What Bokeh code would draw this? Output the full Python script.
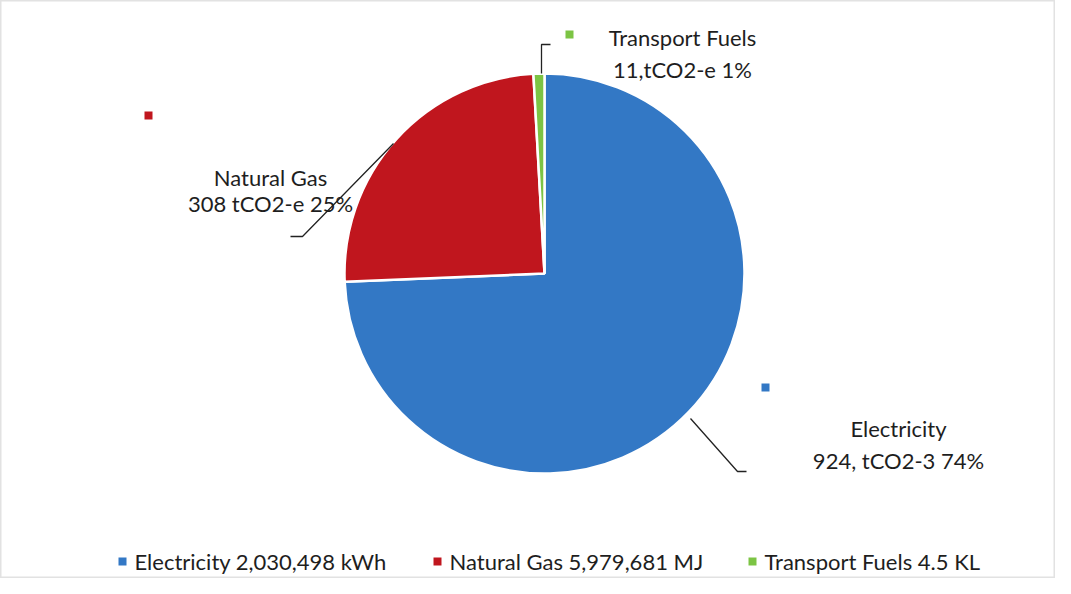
import math
from bokeh.plotting import figure
from bokeh.models import ColumnDataSource, Range1d
from bokeh.core.properties import value
from bokeh.embed import file_html
from bokeh.resources import INLINE

categories = ["Electricity", "Natural Gas", "Transport Fuels"]
emissions = [924, 308, 11]
label_line1 = ["Electricity", "Natural Gas", "Transport Fuels"]
label_line2 = ["924, tCO2-3 74%", "308 tCO2-e 25%", "11,tCO2-e 1%"]
legend_labels = ["Electricity 2,030,498 kWh", "Natural Gas 5,979,681 MJ", "Transport Fuels 4.5 KL"]
colors = ["#3378C5", "#C0161E", "#7CC444"]

W, H = 1055, 578
FONT = "Lato"
FS = "22px"

def px(x):
    return x

def py(y):
    return H - y

p = figure(width=W, height=H, output_backend="svg", toolbar_location=None,
           x_range=Range1d(0, W), y_range=Range1d(0, H), min_border=0)
p.axis.visible = False
p.grid.visible = False
p.outline_line_color = "#e2e2e2"
p.outline_line_width = 2
p.background_fill_color = "white"

cx, cy, r = px(544), py(273), 200
total = sum(emissions)
starts, ends = [], []
a = math.pi / 2
for v in emissions:
    ang = v / total * 2 * math.pi
    starts.append(a)
    ends.append(a - ang)
    a -= ang

src = ColumnDataSource(dict(start=starts, end=ends, color=colors))
p.wedge(x=cx, y=cy, radius=r, start_angle="start", end_angle="end",
        direction="clock", fill_color="color", line_color="white", line_width=2.5,
        source=src)

# leader lines (image coords)
leaders = [
    [(690, 418), (737, 471), (746, 471)],
    [(393, 143), (302, 236), (290, 236)],
    [(541, 73), (541, 44), (550, 44)],
]
for pts in leaders:
    p.line([px(x) for x, _ in pts], [py(y) for _, y in pts], line_color="#222222", line_width=1.3)

# data labels
lab_pos = [(898, 428, 460), (270, 177, 203), (682, 37, 69)]
for i in range(3):
    x, y1, y2 = lab_pos[i]
    p.text(x=[px(x)], y=[py(y1)], text=[label_line1[i]], text_align="center",
           text_baseline="middle", text_font=value(FONT), text_font_size=FS,
           text_color="#1e1e1e")
    p.text(x=[px(x)], y=[py(y2)], text=[label_line2[i]], text_align="center",
           text_baseline="middle", text_font=value(FONT), text_font_size=FS,
           text_color="#1e1e1e")

# stray label keys
keys = [(765, 387), (148, 115), (569, 34)]
p.rect(x=[px(k[0]) for k in keys], y=[py(k[1]) for k in keys], width=8, height=8,
       fill_color=colors, line_color=None)

# bottom legend
leg_mark_x = [122, 437, 752]
leg_y = 561
p.rect(x=[px(x) for x in leg_mark_x], y=[py(leg_y)] * 3, width=8, height=8,
       fill_color=colors, line_color=None)
p.text(x=[px(x + 12) for x in leg_mark_x], y=[py(leg_y)] * 3, text=legend_labels,
       text_align="left", text_baseline="middle", text_font=value(FONT),
       text_font_size=FS, text_color="#1e1e1e")

open("out.html", "w").write(file_html(p, INLINE))
